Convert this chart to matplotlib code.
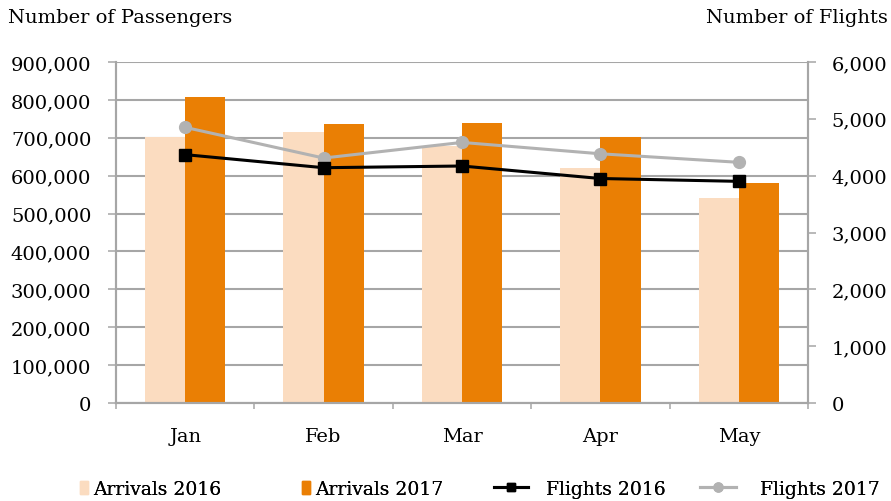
import matplotlib
matplotlib.use("Agg")
import matplotlib.pyplot as plt
from matplotlib.lines import Line2D
from matplotlib.patches import Patch
from matplotlib.ticker import FuncFormatter, FixedLocator
import numpy as np

months = ["Jan", "Feb", "Mar", "Apr", "May"]
arrivals_2016 = [703000, 714000, 678000, 619000, 541000]
arrivals_2017 = [807000, 737000, 740000, 702000, 580000]
flights_2016 = [4370, 4140, 4170, 3950, 3900]
flights_2017 = [4850, 4310, 4585, 4385, 4235]

light = "#FBDCC0"
orange = "#EA7F04"
grid_c = "#A6A6A6"
grey_line = "#B2B2B2"

plt.rcParams["font.family"] = ["DejaVu Serif"]
plt.rcParams["font.size"] = 14

fig = plt.figure(figsize=(8.91, 5.02), dpi=100)
ax = fig.add_axes([116 / 891, 98 / 502, 692 / 891, 341 / 502])
x = np.arange(len(months))
w = 0.29

ax.bar(x - w / 2, arrivals_2016, w, color=light, zorder=2)
ax.bar(x + w / 2, arrivals_2017, w, color=orange, zorder=2)
ax.set_xlim(-0.5, 4.5)
ax.set_ylim(0, 900000)
ax.set_yticks(np.arange(0, 900001, 100000))
ax.yaxis.set_major_formatter(FuncFormatter(lambda v, p: f"{int(v):,}"))
ax.yaxis.grid(True, color=grid_c, lw=1.5, zorder=0)
ax.set_axisbelow(True)

ax.set_xticks(x)
ax.set_xticklabels(months)
ax.xaxis.set_minor_locator(FixedLocator(np.arange(-0.5, 4.6, 1)))
ax.tick_params(axis="x", which="major", length=0, pad=17)
ax.tick_params(axis="x", which="minor", length=4.5, width=1.1, color=grid_c)
ax.tick_params(axis="y", length=5.8, width=1.1, color=grid_c, pad=12)

ax.spines["top"].set_visible(False)
for s in ["left", "bottom", "right"]:
    ax.spines[s].set_color(grid_c)
    ax.spines[s].set_linewidth(1.5)

ax2 = ax.twinx()
ax2.plot(x, flights_2016, color="black", lw=2.2, marker="s", ms=8, zorder=4)
ax2.plot(x, flights_2017, color=grey_line, lw=2.2, marker="o", ms=8.5, zorder=3)
ax2.set_ylim(0, 6000)
ax2.set_yticks(np.arange(0, 6001, 1000))
ax2.yaxis.set_major_formatter(FuncFormatter(lambda v, p: f"{int(v):,}"))
ax2.tick_params(axis="y", length=5.8, width=1.1, color=grid_c, pad=11)
ax2.spines["top"].set_visible(False)
for s in ["left", "bottom", "right"]:
    ax2.spines[s].set_color(grid_c)
    ax2.spines[s].set_linewidth(1.5)

fig.text(8 / 891, 1 - 18 / 502, "Number of Passengers", ha="left", va="center")
fig.text(888 / 891, 1 - 18 / 502, "Number of Flights", ha="right", va="center")

# legend entries placed one by one, like the spreadsheet layout
legend_y = 1 - 490 / 502
entries = [
    (Patch(color=light), "Arrivals 2016", 80, 0.4, 0.3),
    (Patch(color=orange), "Arrivals 2017", 302, 0.4, 0.3),
    (Line2D([], [], color="black", marker="s", ms=6, lw=2.2), "Flights 2016", 494, 1.8, 0.95),
    (Line2D([], [], color=grey_line, marker="o", ms=6.5, lw=2.2), "Flights 2017", 700, 1.9, 1.3),
]
for handle, label, x0, hl, tp in entries:
    leg = fig.legend([handle], [label], loc="center left",
                     bbox_to_anchor=(x0 / 891, legend_y), frameon=False,
                     handlelength=hl, handleheight=0.7, handletextpad=tp,
                     borderpad=0, borderaxespad=0, fontsize=13.5)
    fig.add_artist(leg)

fig.savefig("out.png", dpi=100)
